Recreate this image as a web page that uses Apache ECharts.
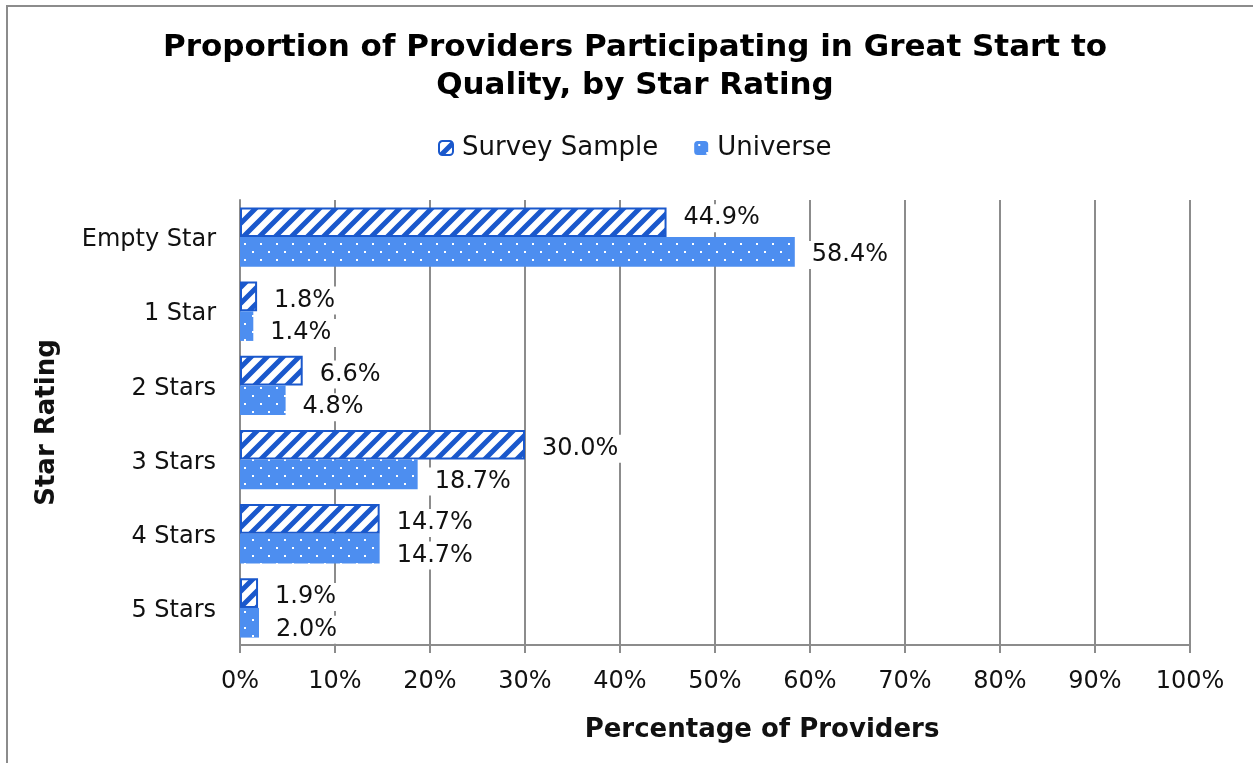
<!DOCTYPE html>
<html>
<head>
<meta charset="utf-8">
<script src="https://cdn.jsdelivr.net/npm/echarts@6/dist/echarts.min.js"></script>
<style>
html,body{margin:0;padding:0;background:#fff;}
#chart{width:1253px;height:763px;}
</style>
</head>
<body>
<div id="chart"></div>
<script>
const categories = ['Empty Star', '1 Star', '2 Stars', '3 Stars', '4 Stars', '5 Stars'];
const surveySample = [44.9, 1.8, 6.6, 30.0, 14.7, 1.9];
const universe = [58.4, 1.4, 4.8, 18.7, 14.7, 2.0];
const seriesNames = ['Survey Sample', 'Universe'];
const xTicks = [0, 10, 20, 30, 40, 50, 60, 70, 80, 90, 100];

const DARK = '#1a58cc';
const LIGHT = '#4d8ef0';

function stripeTile() {
  const c = document.createElement('canvas');
  c.width = 16; c.height = 16;
  const g = c.getContext('2d');
  g.fillStyle = '#fff'; g.fillRect(0, 0, 16, 16);
  g.strokeStyle = DARK; g.lineWidth = 5;
  g.beginPath();
  for (let k = -1; k <= 1; k++) {
    g.moveTo(k * 16 - 4, 20); g.lineTo(k * 16 + 20, -4);
  }
  g.stroke();
  return c;
}
function dotTile() {
  const c = document.createElement('canvas');
  c.width = 16; c.height = 16;
  const g = c.getContext('2d');
  g.fillStyle = LIGHT; g.fillRect(0, 0, 16, 16);
  g.fillStyle = '#fff';
  g.fillRect(4, 3, 2, 2);
  g.fillRect(12, 11, 2, 2);
  return c;
}
const stripePattern = { image: stripeTile(), repeat: 'repeat' };
const dotPattern = { image: dotTile(), repeat: 'repeat' };

const FONT = 'DejaVu Sans';
const chart = echarts.init(document.getElementById('chart'), null, { renderer: 'canvas' });

function labelCfg(dy) {
  return {
    show: true,
    position: 'right',
    distance: 4,
    offset: [0, dy],
    color: '#111',
    fontFamily: FONT,
    fontSize: 24,
    backgroundColor: '#fff',
    padding: [2, 13, 2, 13],
    formatter: p => p.value.toFixed(1) + '%'
  };
}
// first category labels sit slightly apart in the reference
function withFirstOffset(arr, dy) {
  return arr.map((v, i) => i === 0 ? { value: v, label: { offset: [0, dy] } } : v);
}

chart.setOption({
  animation: false,
  backgroundColor: '#fff',
  graphic: [{
    type: 'rect',
    shape: { x: 7, y: 6, width: 1400, height: 900 },
    style: { fill: 'none', stroke: '#8c8c8c', lineWidth: 2 },
    silent: true
  }],
  title: {
    text: 'Proportion of Providers Participating in Great Start to\nQuality, by Star Rating',
    left: 630,
    textAlign: 'center',
    top: 24,
    textStyle: { fontFamily: FONT, fontSize: 31, fontWeight: 'bold', color: '#000', lineHeight: 38 }
  },
  legend: {
    data: seriesNames,
    left: 433,
    top: 130,
    itemWidth: 14,
    itemHeight: 14,
    itemGap: 36,
    textStyle: { fontFamily: FONT, fontSize: 26, color: '#111', padding: [0, 0, 0, 4] }
  },
  grid: { left: 240, right: 63, top: 200, bottom: 118, containLabel: false },
  xAxis: {
    type: 'value',
    min: 0, max: 100, interval: 10,
    name: 'Percentage of Providers',
    nameLocation: 'middle',
    nameGap: 72,
    nameTextStyle: { fontFamily: FONT, fontSize: 26, fontWeight: 'bold', color: '#111', padding: [0, 0, 0, 94] },
    axisLine: { show: true, lineStyle: { color: '#8c8c8c', width: 2 } },
    axisTick: { show: true, length: 8, lineStyle: { color: '#8c8c8c', width: 2 } },
    splitLine: { show: true, lineStyle: { color: '#8c8c8c', width: 2 } },
    axisLabel: { fontFamily: FONT, fontSize: 24, color: '#111', margin: 25, formatter: v => v + '%' }
  },
  yAxis: {
    type: 'category',
    data: categories,
    inverse: true,
    name: 'Star Rating',
    nameLocation: 'middle',
    nameGap: 180,
    nameTextStyle: { fontFamily: FONT, fontSize: 26, fontWeight: 'bold', color: '#111' },
    axisLine: { show: true, lineStyle: { color: '#8c8c8c', width: 2 } },
    axisTick: { show: false },
    axisLabel: {
      fontFamily: FONT, fontSize: 24, color: '#111', margin: 24,
      formatter: v => '{a|' + v + '}',
      rich: { a: { fontFamily: FONT, fontSize: 24, color: '#111', padding: [6, 0, 0, 0] } }
    }
  },
  series: [
    {
      name: seriesNames[0],
      type: 'bar',
      data: withFirstOffset(surveySample, -4),
      barGap: '0%',
      barCategoryGap: '20%',
      itemStyle: { color: stripePattern, borderColor: DARK, borderWidth: 2 },
      label: labelCfg(4)
    },
    {
      name: seriesNames[1],
      type: 'bar',
      data: withFirstOffset(universe, 3),
      barGap: '0%',
      barCategoryGap: '20%',
      itemStyle: { color: dotPattern },
      label: labelCfg(7)
    }
  ]
});
</script>
</body>
</html>
